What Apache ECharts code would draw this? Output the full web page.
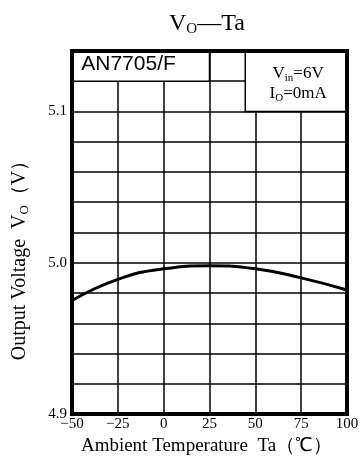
<!DOCTYPE html>
<html>
<head>
<meta charset="utf-8">
<script src="https://cdn.jsdelivr.net/npm/echarts@6/dist/echarts.min.js"></script>
<style>
html, body { margin: 0; padding: 0; background: #fff; }
#panel-chart { width: 364px; height: 463px; }
</style>
</head>
<body>
<div id="panel-chart"></div>
<script>
// Vo - Ta curve, AN7705/F
var temps = [-50, -25, 0, 25, 50, 75, 100];
var vout = [4.975, 4.989, 4.996, 4.998, 4.996, 4.990, 4.982];
var yLabels = [4.9, 5.0, 5.1];

var serif = 'Liberation Serif';

var dom = document.getElementById("panel-chart");
var myChart = echarts.init(dom);
var option = null;

option = {
    animation: false,
    title: {
        text: '{a|V}{s|O}{a|—Ta}',
        left: 164,
        top: 6,
        textStyle: {
            rich: {
                a: { fontFamily: serif, fontSize: 24, fontWeight: 'normal', color: '#000', lineHeight: 26 },
                s: { fontFamily: serif, fontSize: 15, fontWeight: 'normal', color: '#000', lineHeight: 26, verticalAlign: 'bottom' }
            }
        }
    },
    grid: {
        left: 72,
        right: 17,
        top: 51,
        bottom: 49
    },
    xAxis: {
        type: 'value',
        min: -50,
        max: 100,
        interval: 25,
        name: 'Ambient Temperature  Ta（℃）',
        nameLocation: 'middle',
        nameGap: 14,
        nameTextStyle: {
            fontFamily: serif,
            fontSize: 19,
            color: '#000',
            padding: [0, 6, 0, 0]
        },
        axisLine: { show: false },
        axisTick: { show: false },
        axisLabel: {
            fontFamily: serif,
            fontSize: 15,
            color: '#000',
            margin: 3,
            formatter: function (v) {
                return String(v).replace('-', '−');
            }
        },
        splitLine: {
            show: true,
            lineStyle: { color: '#000', width: 1.5 }
        }
    },
    yAxis: {
        type: 'value',
        min: 4.9,
        max: 5.14,
        interval: 0.02,
        name: '{a|Output Voltage  V}{s|O}{a|（V）}',
        nameLocation: 'middle',
        nameGap: 41,
        nameTextStyle: {
            padding: [0, 46, 0, 0],
            rich: {
                a: { fontFamily: serif, fontSize: 20, color: '#000', lineHeight: 22 },
                s: { fontFamily: serif, fontSize: 13, color: '#000', lineHeight: 22, verticalAlign: 'bottom' }
            }
        },
        axisLine: { show: false },
        axisTick: { show: false },
        axisLabel: {
            fontFamily: serif,
            fontSize: 15,
            color: '#000',
            margin: 5,
            formatter: function (v) {
                for (var i = 0; i < yLabels.length; i++) {
                    if (Math.abs(v - yLabels[i]) < 1e-6) return yLabels[i].toFixed(1);
                }
                return '';
            }
        },
        splitLine: {
            show: true,
            lineStyle: { color: '#000', width: 1.5 }
        }
    },
    series: [
        {
            type: 'line',
            data: temps.map(function (t, i) { return [t, vout[i]]; }),
            smooth: 0.5,
            symbol: 'none',
            lineStyle: { color: '#000', width: 3 },
            markArea: {
                silent: true,
                data: [
                    [
                        {
                            xAxis: -50, yAxis: 5.12,
                            itemStyle: { color: '#fff', borderColor: '#000', borderWidth: 1.5 },
                            label: {
                                show: true,
                                position: 'insideLeft',
                                offset: [5, -2],
                                formatter: 'AN7705/F',
                                fontFamily: 'Liberation Sans',
                                fontSize: 21,
                                color: '#000'
                            }
                        },
                        { xAxis: 25, yAxis: 5.14 }
                    ],
                    [
                        {
                            xAxis: 44.5, yAxis: 5.10,
                            itemStyle: { color: '#fff', borderColor: '#000', borderWidth: 1.5 },
                            label: {
                                show: true,
                                position: 'inside',
                                offset: [2, 2],
                                formatter: '{a|V}{s|in}{a|=6V}\n{a|I}{s|O}{a|=0mA}',
                                rich: {
                                    a: { fontFamily: serif, fontSize: 17, color: '#000', lineHeight: 20 },
                                    s: { fontFamily: serif, fontSize: 11, color: '#000', lineHeight: 20, verticalAlign: 'bottom' }
                                }
                            }
                        },
                        { xAxis: 100, yAxis: 5.14 }
                    ],
                    [
                        {
                            xAxis: -50, yAxis: 4.9,
                            itemStyle: { color: 'transparent', borderColor: '#000', borderWidth: 4 }
                        },
                        { xAxis: 100, yAxis: 5.14 }
                    ]
                ]
            }
        }
    ]
};

if (option && typeof option === "object") {
    myChart.setOption(option, true);
}
</script>
</body>
</html>
